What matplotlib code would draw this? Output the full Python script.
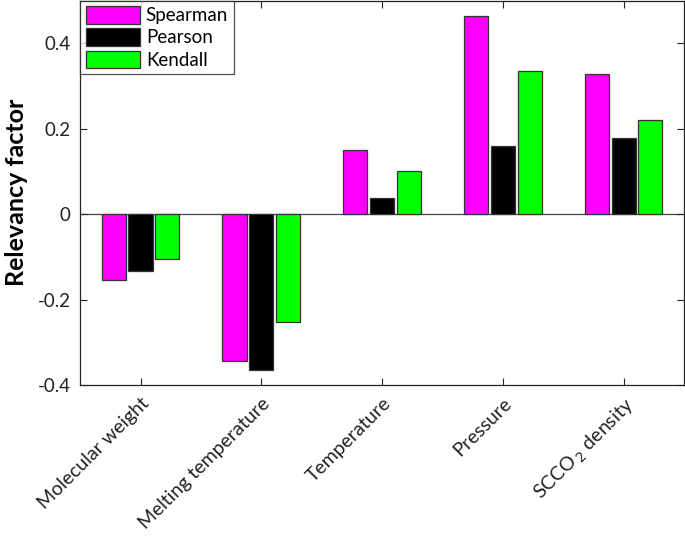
import numpy as np
import matplotlib.pyplot as plt

plt.rcParams['font.family'] = ['Lato', 'DejaVu Sans']

categories = ['Molecular weight', 'Melting temperature', 'Temperature',
              'Pressure', 'SCCO$_{\\,2}$ density']
spearman = [-0.155, -0.343, 0.151, 0.464, 0.328]
pearson = [-0.133, -0.366, 0.037, 0.160, 0.178]
kendall = [-0.105, -0.253, 0.100, 0.335, 0.221]

series = [('Spearman', spearman, '#ff00ff'),
          ('Pearson', pearson, '#000000'),
          ('Kendall', kendall, '#00ff00')]

fig = plt.figure(figsize=(6.85, 5.38), dpi=100)
ax = fig.add_axes([0.117, 0.2844, 0.8815, 0.7146])

x = np.arange(1, len(categories) + 1)
offset = 0.222
width = 0.2
for i, (name, vals, col) in enumerate(series):
    ax.bar(x + (i - 1) * offset, vals, width, color=col, edgecolor='#333333',
           linewidth=0.9, label=name)

ax.axhline(0, color='#444444', linewidth=0.9, zorder=0)
ax.set_xlim(0.5, 5.5)
ax.set_ylim(-0.4, 0.5)
ax.set_yticks([-0.4, -0.2, 0, 0.2, 0.4])
ax.set_yticklabels(['-0.4', '-0.2', '0', '0.2', '0.4'])
ax.set_xticks(x)
ax.set_xticklabels(categories, rotation=45, ha='right', rotation_mode='anchor')
ax.tick_params(direction='in', top=True, right=True, length=5, width=0.8,
               colors='#222222', pad=7)
ax.tick_params(axis='y', labelsize=13.5)
ax.tick_params(axis='x', labelsize=14)
for s in ax.spines.values():
    s.set_color('#222222')
    s.set_linewidth(0.9)

ax.set_ylabel('Relevancy factor', fontsize=18, fontweight='bold')
ax.yaxis.set_label_coords(-0.106, 0.5)
ax.yaxis.label.set_va('center')

leg = ax.legend(loc='upper left', borderaxespad=0, fancybox=False,
                edgecolor='#222222', fontsize=13.5, handlelength=2.9,
                handleheight=1.05, handletextpad=0.3, labelspacing=0.22,
                borderpad=0.3)
leg.get_frame().set_linewidth(0.9)

fig.savefig('out.png', dpi=100)
